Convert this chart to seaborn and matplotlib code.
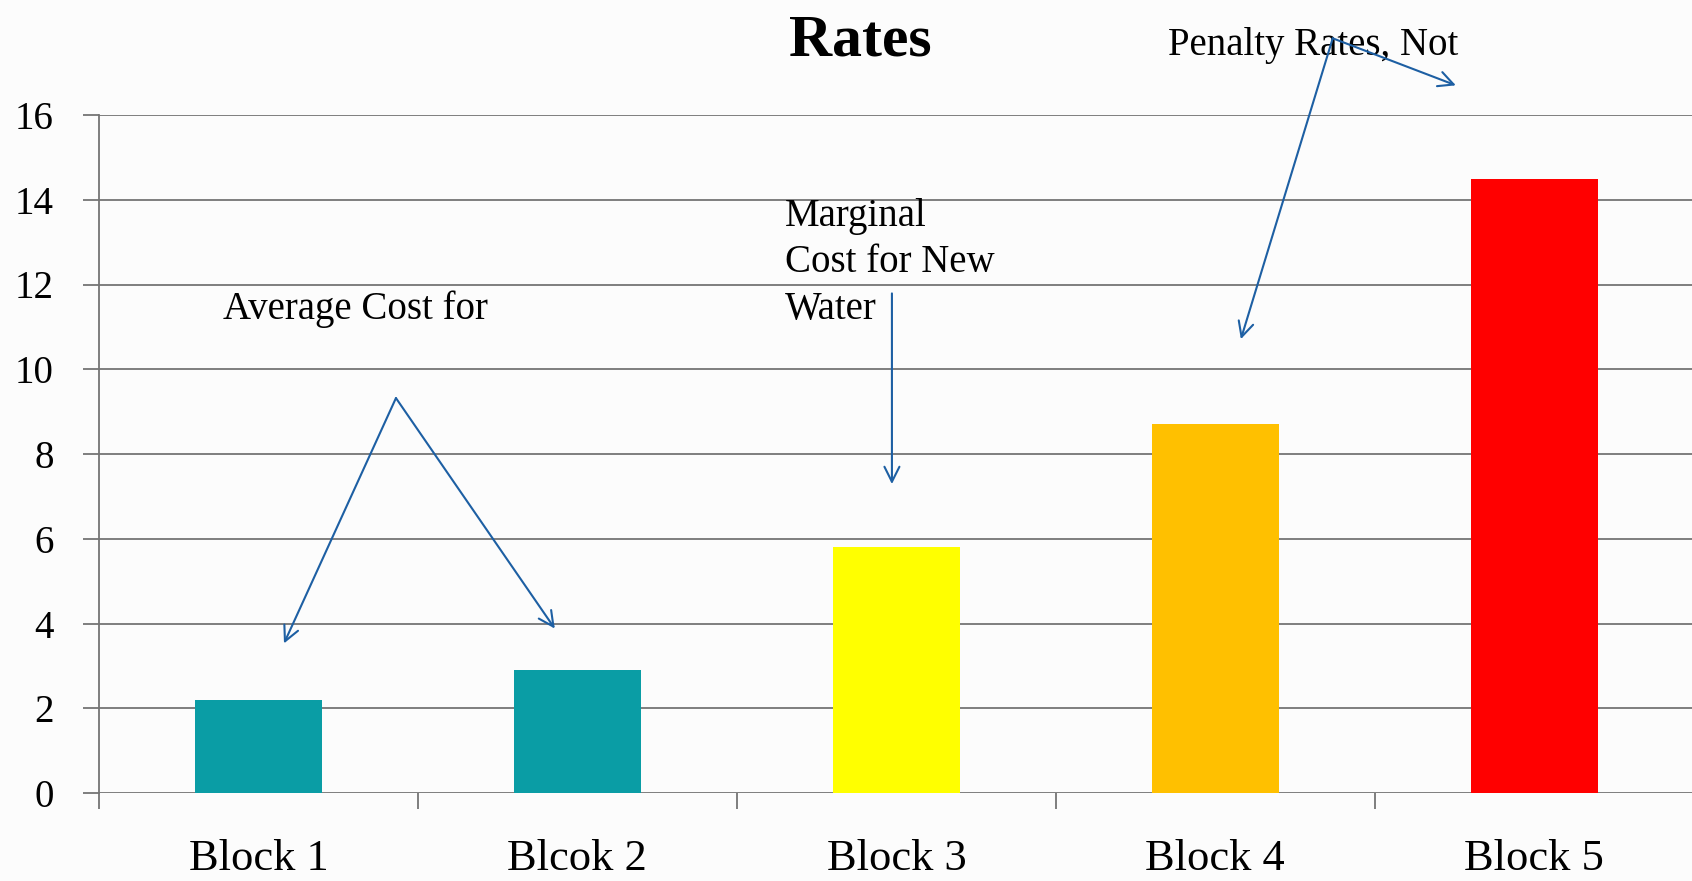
import matplotlib
matplotlib.use("Agg")
import matplotlib.pyplot as plt
import seaborn as sns
import pandas as pd
from matplotlib.ticker import FixedLocator

# ---- data ----
categories = ["Block 1", "Blcok 2", "Block 3", "Block 4", "Block 5"]
rates = [2.2, 2.9, 5.8, 8.7, 14.5]
bar_colors = ["#0A9DA5", "#0A9DA5", "#FFFF00", "#FFC000", "#FF0000"]
y_ticks = [0, 2, 4, 6, 8, 10, 12, 14, 16]

sns.set_theme(style="white")
plt.rcParams["font.family"] = ["Liberation Serif", "DejaVu Serif"]
plt.rcParams["text.color"] = "black"

fig = plt.figure(figsize=(16.92, 8.81), dpi=100)
fig.patch.set_facecolor("#FCFCFC")
ax = fig.add_axes([99 / 1692, 88 / 881, 1 - 99 / 1692 + 0.002, (793 - 115) / 881])
ax.set_facecolor("#FCFCFC")

df = pd.DataFrame({"cat": categories, "val": rates})
sns.barplot(data=df, x="cat", y="val", hue="cat", palette=bar_colors,
            width=0.4, legend=False, ax=ax, saturation=1, edgecolor="none")

ax.set_ylim(0, 16)
ax.set_xlim(-0.5, len(categories) - 0.5 + 0.005)
ax.set_yticks(y_ticks)
ax.set_yticklabels([str(v) for v in y_ticks])
ax.set_xlabel("")
ax.set_ylabel("")

grid_c = "#747474"
ax.yaxis.grid(True, color=grid_c, linewidth=1.3)
ax.set_axisbelow(True)
for s in ["top", "right", "bottom"]:
    ax.spines[s].set_visible(False)
ax.spines["left"].set_color(grid_c)
ax.spines["left"].set_linewidth(1.3)

ax.tick_params(axis="y", length=11.5, width=1.3, color=grid_c, pad=21,
               labelsize=28, labelcolor="black", left=True, direction="out")
ax.tick_params(axis="x", which="major", length=0, pad=33, labelsize=32,
               labelcolor="black")
ax.xaxis.set_minor_locator(FixedLocator([i - 0.5 for i in range(len(categories))]))
ax.tick_params(axis="x", which="minor", length=11.5, width=1.3, color=grid_c,
               bottom=True, direction="out")

# title
fig.text(860 / 1692, 1 - 41 / 881, "Rates", ha="center", va="center",
         fontsize=43, fontweight="bold", color="black")

arrow_c = "#1D5FA3"
aprops = dict(arrowstyle="->,head_length=0.9,head_width=0.45", color=arrow_c,
              lw=1.5, shrinkA=0, shrinkB=0)

# Average cost annotation
ax.text(-0.111, 11.18, "Average Cost for", fontsize=28, ha="left", va="baseline",
        color="black")
for end in [(0.08, 3.53), (0.929, 3.88)]:
    ax.annotate("", xy=end, xytext=(0.431, 9.32), arrowprops=aprops,
                annotation_clip=False)

# Marginal annotation
ax.text(1.65, 14.05, "Marginal\nCost for New\nWater", fontsize=28, ha="left",
        va="top", linespacing=1.35, color="black")
ax.annotate("", xy=(1.986, 7.29), xytext=(1.986, 11.79), arrowprops=aprops,
            annotation_clip=False)

# Penalty annotation
ax.text(2.851, 17.41, "Penalty Rates, Not", fontsize=28, ha="left",
        va="baseline", clip_on=False, color="black")
for end in [(3.08, 10.71), (3.754, 16.7)]:
    ax.annotate("", xy=end, xytext=(3.368, 17.81), arrowprops=aprops,
                annotation_clip=False)

fig.savefig("out.png", dpi=100, facecolor=fig.get_facecolor())
